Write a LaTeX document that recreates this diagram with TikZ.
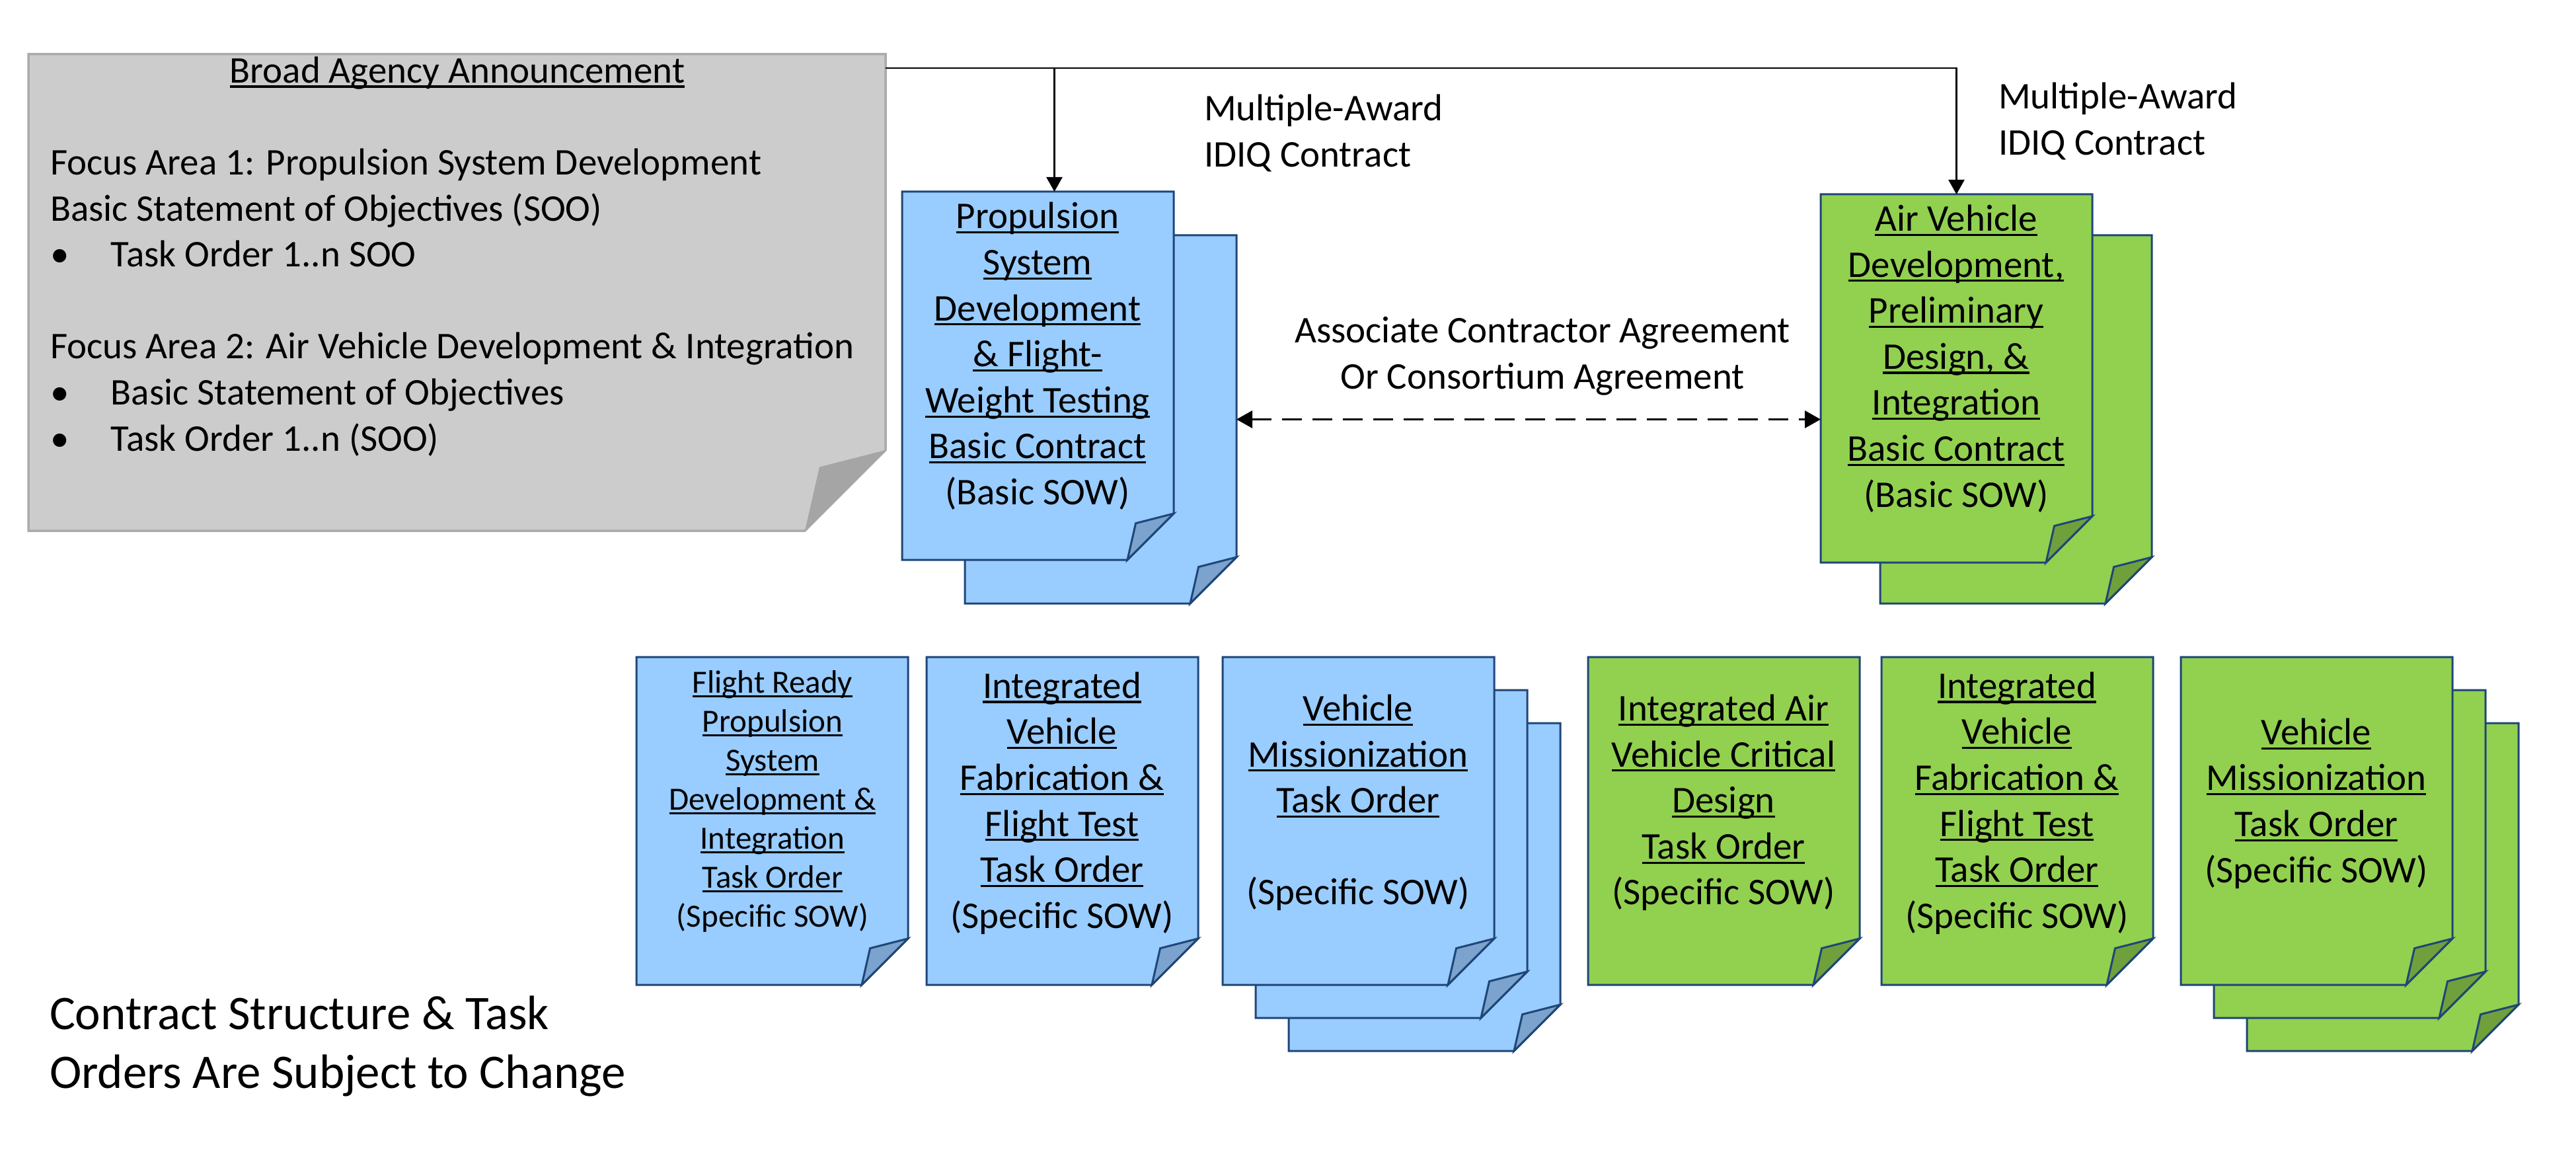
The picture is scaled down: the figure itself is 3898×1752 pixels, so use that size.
\documentclass[tikz,border=0pt]{standalone}
\usepackage{fontspec}
\setmainfont{Carlito}
\usetikzlibrary{arrows.meta,calc}
\definecolor{bluefill}{HTML}{99CCFF}
\definecolor{blueflapc}{HTML}{7BA3CD}
\definecolor{greenfill}{HTML}{92D050}
\definecolor{greenflapc}{HTML}{70A03C}
\definecolor{pageedgec}{HTML}{1F4678}
\definecolor{grayfill}{HTML}{CCCCCC}
\definecolor{grayedge}{HTML}{ABABAB}
\definecolor{grayflapc}{HTML}{A5A5A5}
\newcommand\fbig{\fontsize{57}{69.6}\selectfont}
\newcommand\fsmall{\fontsize{49}{59}\selectfont}
\newcommand\fnote{\fontsize{73}{89}\selectfont}
\newcommand\myul[1]{\setbox0=\hbox{#1}\rlap{\rule[-0.128em]{\wd0}{0.055em}}\box0}
\newcommand\tstrut{\vrule width0pt height0.9em depth0.26em\relax}
\def\foldsize{70}
\newcommand\docpage[6]{%
  \node[inner sep=0pt, outer sep=0pt, minimum width=#4pt, minimum height=#5pt, anchor=north west] (#1) at (#2,#3) {};
  \path[#6page] (#1.north west) -- (#1.north east) -- ($(#1.south east)+(0,-\foldsize)$) -- ($(#1.south east)+(-\foldsize,0)$) -- (#1.south west) -- cycle;
  \path[#6flap] ($(#1.south east)+(-\foldsize,0)$) -- ($(#1.south east)+(-0.82*\foldsize,-0.79*\foldsize)$) -- ($(#1.south east)+(0,-\foldsize)$) -- cycle;
}
\tikzset{
  bluepage/.style={fill=bluefill, draw=pageedgec, line width=3pt, line join=miter},
  blueflap/.style={fill=blueflapc, draw=pageedgec, line width=3pt, line join=miter},
  greenpage/.style={fill=greenfill, draw=pageedgec, line width=3pt, line join=miter},
  greenflap/.style={fill=greenflapc, draw=pageedgec, line width=3pt, line join=miter},
  graypage/.style={fill=grayfill, draw=grayedge, line width=3.5pt, line join=miter},
  grayflap/.style={fill=grayflapc, draw=none},
  txt/.style={inner sep=0pt, outer sep=0pt, font=\fbig, text=black},
  conn/.style={line width=2.5pt, draw=black},
  arrowed/.style={-{Triangle[length=22pt,width=24pt]}},
  dashconn/.style={line width=3.5pt, draw=black, dash pattern=on 30pt off 16pt,
    {Triangle[length=24pt,width=26pt]}-{Triangle[length=24pt,width=26pt]}},
}
\begin{document}
\begin{tikzpicture}[x=1pt,y=-1pt]
\useasboundingbox[fill=white] (0,0) rectangle (3898,1752);

% Broad Agency Announcement page
\def\foldsize{122}
\docpage{baa}{43}{82}{1297}{721}{gray}
\def\foldsize{70}
\node[txt] (baatitle) at (692,107) {\tstrut\myul{Broad Agency Announcement}\tstrut};
\node[txt, anchor=west, align=left] (baabody) at (76,455) {\tstrut Focus Area 1: Propulsion System Development\\
Basic Statement of Objectives (SOO)\\
\makebox[92pt][l]{\textbullet}Task Order 1..n SOO\\[69.6pt]
Focus Area 2: Air Vehicle Development \& Integration\\
\makebox[92pt][l]{\textbullet}Basic Statement of Objectives\\
\makebox[92pt][l]{\textbullet}Task Order 1..n (SOO)\tstrut};

% top basic contracts
\docpage{propB}{1460}{356}{411}{557}{blue}
\docpage{propF}{1365}{290}{411}{557}{blue}
\docpage{airB}{2845}{356}{411}{557}{green}
\docpage{airF}{2755}{294}{411}{557}{green}

\node[txt, align=center] (propT) at (1570,536.5) {\tstrut\myul{Propulsion}\\\myul{System}\\\myul{Development}\\\myul{\& Flight-}\\\myul{Weight Testing}\\\myul{Basic Contract}\\(Basic SOW)\tstrut};
\node[txt, align=center] (airT) at (2960,540) {\tstrut\myul{Air Vehicle}\\\myul{Development,}\\\myul{Preliminary}\\\myul{Design, \&}\\\myul{Integration}\\\myul{Basic Contract}\\(Basic SOW)\tstrut};

% labels
\node[txt, anchor=west, align=left] (idiq1) at (1822,199.5) {\tstrut Multiple-Award\\IDIQ Contract\tstrut};
\node[txt, anchor=west, align=left] (idiq2) at (3024,181) {\tstrut Multiple-Award\\IDIQ Contract\tstrut};
\node[txt, align=center] (aca) at (2334,535.5) {\tstrut Associate Contractor Agreement\\Or Consortium Agreement\tstrut};

% connectors
\coordinate (bus) at ($(baa.north east)+(0,21)$);
\coordinate (propIn) at ($(propF.north)+(25,0)$);
\draw[conn, arrowed] (bus) -| (airF.north);
\draw[conn, arrowed] (propIn |- bus) -- (propIn);
\draw[dashconn] (propB.east) -- (propB.east -| airF.west);

% task orders - blue
\docpage{b1}{963}{994}{411}{496}{blue}
\docpage{b2}{1402}{994}{411}{496}{blue}
\docpage{b3c}{1950}{1094}{411}{496}{blue}
\docpage{b3b}{1900}{1044}{411}{496}{blue}
\docpage{b3a}{1850}{994}{411}{496}{blue}
% task orders - green
\docpage{g1}{2403}{994}{411}{496}{green}
\docpage{g2}{2847}{994}{411}{496}{green}
\docpage{g3c}{3400}{1094}{411}{496}{green}
\docpage{g3b}{3350}{1044}{411}{496}{green}
\docpage{g3a}{3300}{994}{411}{496}{green}

\node[txt, font=\fsmall, align=center] (b1t) at (1169,1210) {\tstrut\myul{Flight Ready}\\\myul{Propulsion}\\\myul{System}\\\myul{Development \&}\\\myul{Integration}\\\myul{Task Order}\\(Specific SOW)\tstrut};
\node[txt, align=center] (b2t) at (1607,1212) {\tstrut\myul{Integrated}\\\myul{Vehicle}\\\myul{Fabrication \&}\\\myul{Flight Test}\\\myul{Task Order}\\(Specific SOW)\tstrut};
\node[txt, align=center] (b3t) at (2055,1211.5) {\tstrut\myul{Vehicle}\\\myul{Missionization}\\\myul{Task Order}\\[69.6pt](Specific SOW)\tstrut};
\node[txt, align=center] (g1t) at (2608,1211.5) {\tstrut\myul{Integrated Air}\\\myul{Vehicle Critical}\\\myul{Design}\\\myul{Task Order}\\(Specific SOW)\tstrut};
\node[txt, align=center] (g2t) at (3052,1212) {\tstrut\myul{Integrated}\\\myul{Vehicle}\\\myul{Fabrication \&}\\\myul{Flight Test}\\\myul{Task Order}\\(Specific SOW)\tstrut};
\node[txt, align=center] (g3t) at (3505,1212.5) {\tstrut\myul{Vehicle}\\\myul{Missionization}\\\myul{Task Order}\\(Specific SOW)\tstrut};

% note
\node[txt, font=\fnote, anchor=west, align=left] (note) at (75,1578.5) {\tstrut Contract Structure \& Task\\Orders Are Subject to Change\tstrut};
\end{tikzpicture}
\end{document}
